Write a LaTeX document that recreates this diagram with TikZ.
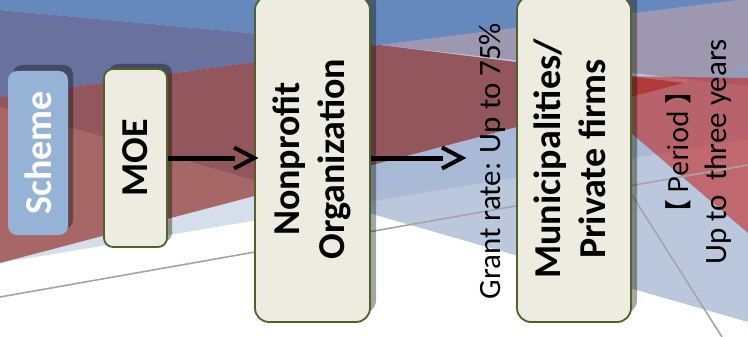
\documentclass[tikz,border=0pt]{standalone}
\usepackage{fontspec}
\usepackage{graphicx}
\setmainfont{Carlito}
\newfontfamily\cjkfont{Noto Sans CJK SC}
\usetikzlibrary{shadows}

\definecolor{skyblue}{RGB}{101,137,189}
\definecolor{duskpurple}{RGB}{105,114,158}
\definecolor{lilac}{RGB}{157,151,176}
\definecolor{mistblue}{RGB}{186,199,221}
\definecolor{bandred}{RGB}{132,41,42}
\definecolor{glowred}{RGB}{196,41,36}
\definecolor{stripblue}{RGB}{135,164,201}
\definecolor{schemefill}{RGB}{149,179,215}
\definecolor{cardfill}{RGB}{238,236,225}
\definecolor{cardedge}{RGB}{79,98,40}
\definecolor{seamgray}{RGB}{165,165,165}

\newcommand\cardfont{\fontsize{38}{45}\selectfont\bfseries}
\newcommand\notefont{\fontsize{31}{38}\selectfont}
\newcommand\headfont{\cjkfont\fontsize{27}{38}\selectfont}

\begin{document}
\begin{tikzpicture}[x=1pt,y=-1pt,
  cardbase/.style={draw=cardedge, line width=1.8pt, fill=cardfill, inner sep=0pt, font=\cardfont},
  smallcard/.style={cardbase, rounded corners=9pt,
    drop shadow={shadow xshift=5pt, shadow yshift=5pt, opacity=.35, fill=black}},
  tallcard/.style={cardbase, rounded corners=14pt,
    drop shadow={shadow xshift=6pt, shadow yshift=8pt, opacity=.35, fill=black}},
  tagcard/.style={fill=schemefill, rounded corners=9pt, inner sep=0pt, font=\cardfont,
    text=white, drop shadow={shadow xshift=5pt, shadow yshift=6pt, opacity=.35, fill=black}},
  note/.style={rotate=90, font=\notefont, inner sep=0pt},
  shaft/.style={line width=5pt, black},
  chevron/.style={line width=4pt, black, line join=miter},
  shaftshade/.style={line width=5pt, black, opacity=.25},
  chevronshade/.style={line width=4pt, black, opacity=.25, line join=miter},
  seam/.style={draw=seamgray, line width=1.6pt}
]
\useasboundingbox (0,0) rectangle (748,337);
\clip (0,0) rectangle (748,337);

% backdrop planes
\fill[white] (0,0) rectangle (748,337);
\fill[mistblue] (0,0) -- (748,0) -- (748,322) -- (0,107) -- cycle;
\fill[skyblue] (0,0) -- (748,0) -- (748,-1) -- (380,45) -- (0,10) -- cycle;
\fill[duskpurple] (0,10) -- (380,45) -- (0,97) -- cycle;
\fill[lilac] (380,45) -- (748,-1) -- (748,86) -- cycle;
\fill[bandred, opacity=.71] (0,97) -- (380,45) -- (684,83) -- (0,263) -- cycle;
\fill[stripblue, opacity=.35] (0,263) -- (748,66) -- (748,139) -- (5,262) -- cycle;
\fill[glowred, opacity=.6] (610,76) -- (748,78) -- (748,233) -- (610,115) -- cycle;

% thin seams
\draw[seam] (0,297) -- (748,165);
\draw[seam] (632,195) -- (722,337);

% cards
\node[tagcard, minimum width=60pt, minimum height=164pt] (scheme) at (38,153)
  {\rotatebox{90}{Scheme}};
\node[smallcard, minimum width=63pt, minimum height=178pt] (moe) at (135.5,158)
  {\rotatebox{90}{MOE}};
\node[tallcard, minimum width=115pt, minimum height=326pt] (npo) at (312.5,159)
  {\rotatebox{90}{\begin{tabular}{@{}c@{}}Nonprofit\\Organization\end{tabular}}};
\node[tallcard, minimum width=114pt, minimum height=326pt] (muni) at (574,159)
  {\rotatebox{90}{\begin{tabular}{@{}c@{}}Municipalities/\\Private firms\end{tabular}}};

% notes
\node[note] (grant) at (492,161) {Grant rate: Up to 75\%};
\node[note] (period) at (700,152)
  {\begin{tabular}{@{}c@{}}{\headfont 【 Period 】}\\
   \notefont Up to\ \ three years\end{tabular}};

% flow arrows
\coordinate (tipA) at (moe.east -| npo.west);
\coordinate (tipB) at (462,158);
\begin{scope}[shift={(1.5pt,-1.5pt)}]
  \draw[shaftshade, shorten >=19pt] (moe.east) -- (tipA);
  \draw[chevronshade] ([shift={(-20pt,10.5pt)}]tipA) -- (tipA) -- ([shift={(-20pt,-10.5pt)}]tipA);
  \draw[shaftshade, shorten >=19pt] (npo.east |- tipB) -- (tipB);
  \draw[chevronshade] ([shift={(-20pt,10.5pt)}]tipB) -- (tipB) -- ([shift={(-20pt,-10.5pt)}]tipB);
\end{scope}
\draw[shaft, shorten >=19pt] (moe.east) -- (tipA);
\draw[chevron] ([shift={(-20pt,10.5pt)}]tipA) -- (tipA) -- ([shift={(-20pt,-10.5pt)}]tipA);
\draw[shaft, shorten >=19pt] (npo.east |- tipB) -- (tipB);
\draw[chevron] ([shift={(-20pt,10.5pt)}]tipB) -- (tipB) -- ([shift={(-20pt,-10.5pt)}]tipB);
\end{tikzpicture}
\end{document}
